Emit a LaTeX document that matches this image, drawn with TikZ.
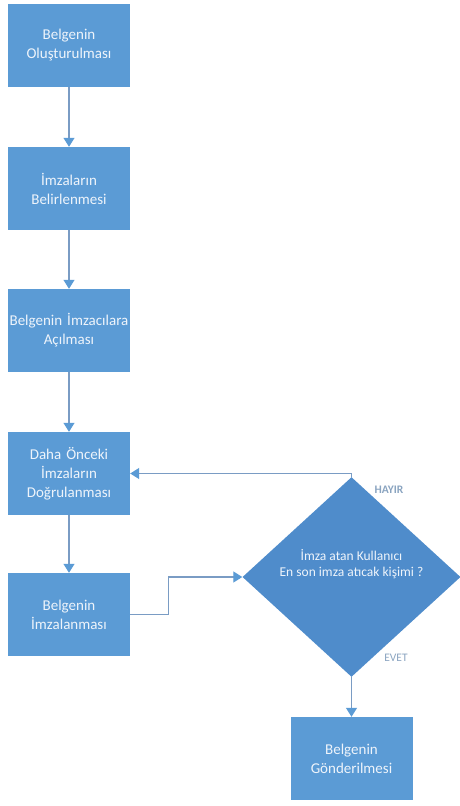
\documentclass[tikz,border=0pt]{standalone}
\usepackage{fontspec}
\setmainfont{Carlito}
\usetikzlibrary{shapes.geometric,arrows.meta}
\definecolor{boxblue}{HTML}{5B9BD5}
\definecolor{diablue}{HTML}{4F8CCB}
\definecolor{linec}{HTML}{7A9CC4}
\definecolor{txtc}{HTML}{EEF4FB}
\definecolor{lblc}{HTML}{8AA4C0}
\tikzset{
  procbox/.style={rectangle, fill=boxblue, minimum width=122pt, minimum height=83pt,
    text width=120pt, align=center, text=txtc, font=\fontsize{15}{19}\selectfont, inner sep=0pt},
  decbox/.style={diamond, fill=diablue, minimum width=218pt, minimum height=180pt,
    align=center, text=txtc, font=\fontsize{13.5}{16.5}\selectfont, inner sep=0pt},
  conn/.style={draw=linec, line width=1.2pt, -{Triangle[width=11pt,length=9pt,fill=boxblue,color=boxblue]}},
  lbl/.style={font=\fontsize{11.5}{13}\selectfont, text=lblc}
}
\begin{document}
\begin{tikzpicture}[x=1pt,y=-1pt]
\useasboundingbox (0,0) rectangle (459,806);
\node[procbox] (b1) at (69,45.5) {Belgenin\\Oluşturulması};
\node[procbox] (b2) at (69,188.5) {İmzaların\\Belirlenmesi};
\node[procbox] (b3) at (69,330.5) {Belgenin İmzacılara\\Açılması};
\node[procbox] (b4) at (69,473.5) {Daha Önceki\\İmzaların\\Doğrulanması};
\node[procbox] (b5) at (69,614.5) {Belgenin\\İmzalanması};
\node[decbox] (d) at (351.5,577) {İmza atan Kullanıcı\\En son imza atıcak kişimi ?\\[12pt]};
\node[procbox] (b6) at (351.5,758.5) {Belgenin\\Gönderilmesi};
\draw[conn] (b1.south) -- (b2.north);
\draw[conn] (b2.south) -- (b3.north);
\draw[conn] (b3.south) -- (b4.north);
\draw[conn] (b4.south) -- (b5.north);
\draw[conn] (b5.east) -- ++(38,0) |- (d.west);
\draw[conn] (d.north) |- (b4.east);
\draw[conn] (d.south) -- (b6.north);
\node[lbl, font=\fontsize{11.5}{13}\bfseries] (hayir) at (389,490) {HAYIR};
\node[lbl] (evet) at (396,658) {EVET};
\end{tikzpicture}
\end{document}
